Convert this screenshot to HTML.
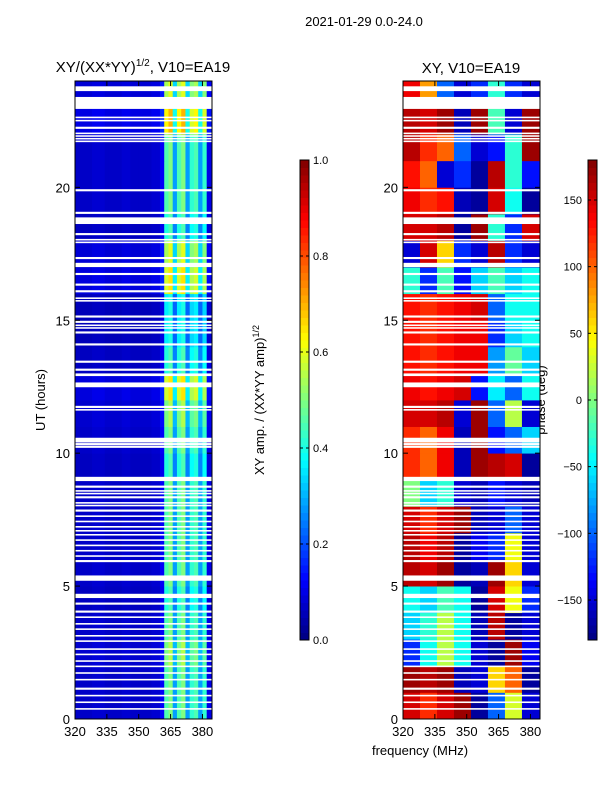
<!DOCTYPE html>
<html><head><meta charset="utf-8"><style>
body{margin:0;background:#fff;width:600px;height:800px;overflow:hidden}
svg{font-family:"Liberation Sans","DejaVu Sans",sans-serif}
</style></head><body>
<svg id="s" width="600" height="800" xmlns="http://www.w3.org/2000/svg">
<text x="364" y="26" font-size="13" text-anchor="middle">2021-01-29 0.0-24.0</text>
<text x="143" y="72" font-size="15" text-anchor="middle">XY/(XX*YY)<tspan font-size="10" dy="-6">1/2</tspan><tspan dy="6">, V10=EA19</tspan></text>
<text x="471" y="73" font-size="15" text-anchor="middle">XY, V10=EA19</text>
<text transform="translate(45,400) rotate(-90)" font-size="13" text-anchor="middle">UT (hours)</text>
<text transform="translate(264,400) rotate(-90)" font-size="13" text-anchor="middle">XY amp. / (XX*YY amp)<tspan font-size="9" dy="-5">1/2</tspan></text>
<text transform="translate(545,400) rotate(-90)" font-size="13" text-anchor="middle">phase (deg)</text>
<text x="420" y="755" font-size="13" text-anchor="middle">frequency (MHz)</text>
<g id="g"></g>
</svg>
<script>
const hours=[0,1,2,3,4,5,6,7,8,9,10,11,12,13,14,15,16,17,18,19,20,21,22,23];
const freqTicks=[320,335,350,365,380];
const hourTicks=[0,5,10,15,20];
const ampTicks=[0.0,0.2,0.4,0.6,0.8,1.0];
const phaseTicks=[-150,-100,-50,0,50,100,150];
const ampFreqs=[320,322,324,326,328,330,332,334,336,338,340,342,344,346,348,350,352,354,356,358,360,362,364,366,368,370,372,374,376,378,380,382];
const ampCols=[0.07,0.07,0.07,0.07,0.08,0.08,0.08,0.07,0.07,0.07,0.07,0.08,0.08,0.07,0.07,0.07,0.07,0.07,0.08,0.08,0.12,0.45,0.5,0.28,0.45,0.5,0.28,0.42,0.45,0.28,0.42,0.1];
const ampHourGain=[1.0,1.0,1.1,1.0,0.9,1.0,1.0,1.0,1.0,0.9,1.0,1.1,1.3,0.9,0.8,0.8,1.3,1.2,0.9,1.0,1.0,1.0,1.4,1.2];
const phaseFreqs=[320,328,336,344,352,360,368,376];
const phaseGrid=[
[150,120,150,170,-170,-100,30,-150],
[170,160,170,-160,-150,60,100,-170],
[-120,-40,20,-40,-150,-170,170,-140],
[-60,-30,20,-40,-160,160,-170,-150],
[-40,-60,-20,-40,-170,150,40,-120],
[160,150,170,-170,-160,170,60,-150],
[160,140,160,-170,-140,-120,40,-150],
[150,120,150,170,-160,-150,-100,-150],
[0,-60,-30,-150,-160,-130,-150,-160],
[120,100,140,-160,170,160,150,-170],
[120,100,140,-160,170,-130,-100,-60],
[150,150,160,-150,170,-100,20,-150],
[140,130,140,150,-130,-50,-100,-40],
[130,120,130,140,140,-80,-10,-60],
[130,120,130,140,140,-120,-60,-40],
[130,120,130,140,150,-100,-40,-40],
[-30,-120,-20,-130,-60,-20,-60,-40],
[-150,150,60,-120,-150,160,-120,-150],
[150,150,160,-170,170,-30,-120,150],
[140,120,130,-160,-170,150,-40,-170],
[130,100,-150,-120,-170,160,-30,-130],
[160,120,100,-100,-150,-130,-30,170],
[160,150,170,-160,170,-20,-150,170],
[140,80,-100,-150,-120,-30,-120,-150]];
const gapStart=[23.62,22.95,22.6,22.48,22.2,22.0,21.9,21.8,21.7,19.85,19.0,18.62,18.2,18.0,17.9,17.3,17.0,16.7,16.3,16.05,15.8,15.7,15.1,14.9,14.78,14.68,14.5,14.05,13.4,13.1,12.9,12.48,11.7,11.6,10.4,10.3,10.2,8.95,8.7,8.55,8.45,8.3,8.1,8.0,7.8,7.6,7.4,7.2,7.05,6.9,6.7,6.5,6.3,6.1,5.9,5.2,4.55,4.3,4.0,3.8,3.55,3.35,3.1,2.9,2.6,2.4,2.15,1.95,1.7,1.45,1.1,0.85,0.6,0.35];
const gapLen=[0.18,0.45,0.06,0.06,0.08,0.06,0.06,0.06,0.06,0.08,0.08,0.25,0.08,0.06,0.06,0.08,0.16,0.08,0.08,0.08,0.06,0.06,0.08,0.08,0.06,0.06,0.08,0.08,0.08,0.08,0.1,0.18,0.08,0.06,0.18,0.08,0.08,0.16,0.08,0.06,0.06,0.08,0.06,0.06,0.08,0.06,0.06,0.06,0.06,0.06,0.06,0.06,0.06,0.06,0.08,0.2,0.16,0.08,0.08,0.06,0.06,0.06,0.06,0.06,0.06,0.06,0.06,0.06,0.06,0.06,0.08,0.06,0.06,0.06];

const NS="http://www.w3.org/2000/svg",G=document.getElementById('g');
function el(t,a,p){const e=document.createElementNS(NS,t);for(const k in a)e.setAttribute(k,a[k]);(p||G).appendChild(e);return e;}
function jet(v){v=Math.max(0,Math.min(1,v));const r=Math.min(4*v-1.5,-4*v+4.5),g=Math.min(4*v-0.5,-4*v+3.5),b=Math.min(4*v+0.5,-4*v+2.5);const c=x=>Math.round(255*Math.max(0,Math.min(1,x)));return `rgb(${c(r)},${c(g)},${c(b)})`;}
const Y0=719,Y1=81,FMIN=320,FMAX=384.5;
const yS=h=>Y0-(h/24)*(Y0-Y1);
function panel(x0,x1){
  const xS=f=>x0+(f-FMIN)/(FMAX-FMIN)*(x1-x0);
  return {xS};
}
const L=panel(75,212),R=panel(403,540);
hours.forEach((h,i)=>{ampFreqs.forEach((f,j)=>{
  const f2=j+1<ampFreqs.length?ampFreqs[j+1]:FMAX;
  const r=el('rect',{x:L.xS(f),y:yS(h+1),width:L.xS(f2)-L.xS(f)+0.4,height:yS(h)-yS(h+1)+0.4,fill:jet(ampCols[j]*ampHourGain[i])});
  
  
});});
hours.forEach((h,i)=>{phaseFreqs.forEach((f,j)=>{
  const f2=j+1<phaseFreqs.length?phaseFreqs[j+1]:FMAX;
  const r=el('rect',{x:R.xS(f),y:yS(h+1),width:R.xS(f2)-R.xS(f)+0.4,height:yS(h)-yS(h+1)+0.4,fill:jet((phaseGrid[i][j]+180)/360)});
  
  
});});
gapStart.forEach((g,i)=>{[[75,212],[403,540]].forEach(p=>{
  const r=el('rect',{x:p[0],y:yS(g+gapLen[i]),width:p[1]-p[0],height:yS(g)-yS(g+gapLen[i]),fill:'#fff'});
  
  
});});
[[75,212,L],[403,540,R]].forEach(([a,b,P],k)=>{
  const fr=el('rect',{x:a,y:Y1,width:b-a,height:Y0-Y1,fill:'none',stroke:'#000','stroke-width':1});
  
  
  freqTicks.forEach(f=>{const x=P.xS(f);
    el('line',{x1:x,x2:x,y1:Y0,y2:Y0-5,stroke:'#000'});el('line',{x1:x,x2:x,y1:Y1,y2:Y1+5,stroke:'#000'});
    const t=el('text',{x:x,y:Y0+17,'font-size':13,'text-anchor':'middle'});t.textContent=f;
    
    });
  hourTicks.forEach(h=>{const y=yS(h);
    el('line',{x1:a,x2:a+5,y1:y,y2:y,stroke:'#000'});el('line',{x1:b,x2:b-5,y1:y,y2:y,stroke:'#000'});
    const t=el('text',{x:a-5,y:y+5,'font-size':13,'text-anchor':'end'});t.textContent=h;
    
    });
});
function cbar(x,ticks,vmin,vmax,name,fmt,leftLabels){
  const top=160,bot=640,n=64;
  for(let i=0;i<n;i++){el('rect',{x:x,y:bot-(i+1)*(bot-top)/n,width:9,height:(bot-top)/n+0.5,fill:jet((i+0.5)/n)});}
  const f=el('rect',{x:x,y:top,width:9,height:bot-top,fill:'none',stroke:'#000'});
  
  
  ticks.forEach(v=>{const y=bot-(v-vmin)/(vmax-vmin)*(bot-top);
    el('line',{x1:x,x2:x+3,y1:y,y2:y,stroke:'#000'});el('line',{x1:x+9,x2:x+6,y1:y,y2:y,stroke:'#000'});
    const t=leftLabels?el('text',{x:x-6,y:y+4,'font-size':11,'text-anchor':'end'}):el('text',{x:x+13,y:y+4,'font-size':11});
    t.textContent=fmt(v);
    
    });
}
cbar(300,ampTicks,0,1,'amp-colorbar',v=>v.toFixed(1),false);
cbar(588,phaseTicks,-180,180,'phase-colorbar',v=>v<0?'\u2212'+(-v):''+v,true);
</script>
</body></html>
